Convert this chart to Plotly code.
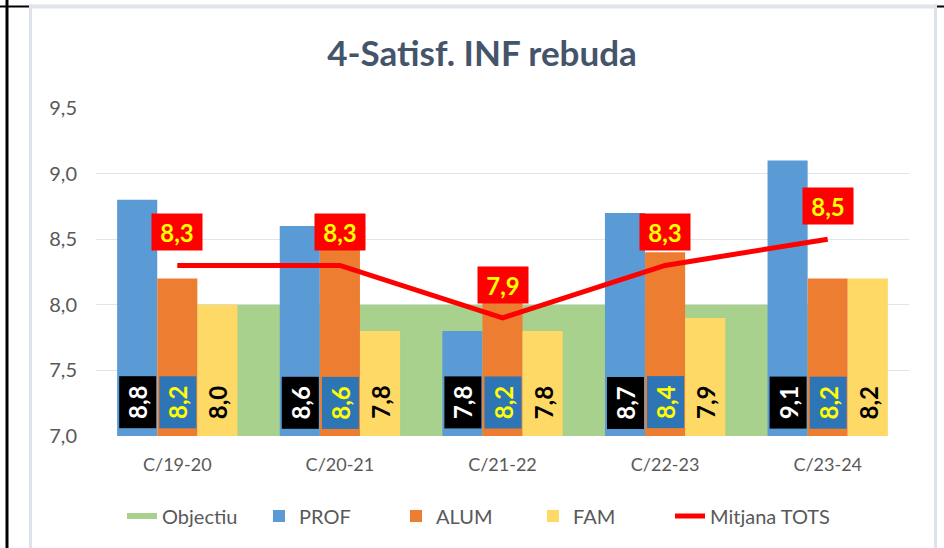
import plotly.graph_objects as go

categories = ["C/19-20", "C/20-21", "C/21-22", "C/22-23", "C/23-24"]
objectiu = [8.0, 8.0, 8.0, 8.0, 8.0]
prof = [8.8, 8.6, 7.8, 8.7, 9.1]
alum = [8.2, 8.6, 8.2, 8.4, 8.2]
fam = [8.0, 7.8, 7.8, 7.9, 8.2]
mitjana = [8.3, 8.3, 7.9, 8.3, 8.5]
y_ticks = [7.0, 7.5, 8.0, 8.5, 9.0, 9.5]

FONT = "Lato, Carlito, Calibri, sans-serif"
xs = list(range(len(categories)))
BARGAP = 0.26
bw = (1 - BARGAP) / 3

def fmt(v):
    return f"{v:.1f}".replace(".", ",")

fig = go.Figure()

# Objectiu area (behind bars, on base axes)
fig.add_trace(go.Scatter(
    x=xs, y=objectiu, name="Objectiu", mode="none", fill="tozeroy",
    fillcolor="#A9D18E", xaxis="x", yaxis="y", hoverinfo="skip", legend="legend"))

bar_cfg = [("PROF", prof, "#5B9BD5"), ("ALUM", alum, "#ED7D31"), ("FAM", fam, "#FFD966")]
for name, vals, col in bar_cfg:
    fig.add_trace(go.Bar(
        x=xs, y=vals, name=name, marker=dict(color=col, line=dict(width=0)),
        xaxis="x2", yaxis="y2", legend="legend"))

fig.add_trace(go.Scatter(
    x=xs, y=mitjana, name="Mitjana TOTS", mode="lines",
    line=dict(color="#FF0000", width=5), xaxis="x2", yaxis="y2", legend="legend2"))

annotations = []
label_styles = [
    (prof, "#FFFFFF", "#000000"),
    (alum, "#FFFF00", "#2E75B6"),
    (fam, "#000000", "rgba(0,0,0,0)"),
]
for k, (vals, fcol, bg) in enumerate(label_styles):
    off = (k - 1) * bw
    for i, v in enumerate(vals):
        annotations.append(dict(
            x=i + off, y=y_ticks[0], xref="x", yref="y", text=fmt(v),
            showarrow=False, textangle=-90, yanchor="bottom", xanchor="center",
            yshift=7, font=dict(family=FONT, size=24, color=fcol, weight="bold"),
            bgcolor=bg, width=47, height=32, borderpad=2))

for i, v in enumerate(mitjana):
    annotations.append(dict(
        x=i, y=v, xref="x", yref="y", text=fmt(v), showarrow=False,
        yanchor="bottom", yshift=14,
        font=dict(family=FONT, size=24, color="#FFFF00", weight="bold"),
        bgcolor="#FF0000", width=46, height=32, borderpad=2))

W, H = 944, 548
ML, MR, MT, MB = 96, 35, 108, 112
pw = W - ML - MR
ph = H - MT - MB

def px(x):
    return (x - ML) / pw

def py(y):
    return 1 - (y - MT) / ph

shapes = [
    dict(type="line", xref="paper", yref="paper", x0=px(7), x1=px(7), y0=py(0), y1=py(548),
         line=dict(color="#000000", width=3)),
    dict(type="line", xref="paper", yref="paper", x0=px(0), x1=px(30), y0=py(6.5), y1=py(6.5),
         line=dict(color="#000000", width=2)),
    dict(type="line", xref="paper", yref="paper", x0=px(937), x1=px(944), y0=py(6.5), y1=py(6.5),
         line=dict(color="#000000", width=2)),
    dict(type="line", xref="paper", yref="paper", x0=px(30.5), x1=px(30.5), y0=py(4), y1=py(548),
         line=dict(color="#DDE2EB", width=3)),
    dict(type="line", xref="paper", yref="paper", x0=px(935.5), x1=px(935.5), y0=py(4), y1=py(548),
         line=dict(color="#DDE2EB", width=3)),
    dict(type="line", xref="paper", yref="paper", x0=px(29), x1=px(937), y0=py(6.5), y1=py(6.5),
         line=dict(color="#DFE4EC", width=4)),
]

legend_font = dict(family=FONT, size=20, color="#595959")

fig.update_layout(
    width=W, height=H,
    margin=dict(l=ML, r=MR, t=MT, b=MB),
    paper_bgcolor="white", plot_bgcolor="white",
    separators=",.",
    barmode="group", bargap=BARGAP, bargroupgap=0,
    title=dict(text="<b>4-Satisf. INF rebuda</b>", x=482 / W, xref="container", y=1 - 54 / H,
               yref="container", yanchor="middle", xanchor="center",
               font=dict(family=FONT, size=35, color="#44546A")),
    font=dict(family=FONT, color="#595959"),
    xaxis=dict(range=[-0.5, len(categories) - 0.5], tickvals=xs, ticktext=categories,
               showgrid=False, zeroline=False, showline=False,
               tickfont=dict(family=FONT, size=18, color="#595959"),
               ticklabelstandoff=16),
    yaxis=dict(range=[y_ticks[0], y_ticks[-1]], tickvals=y_ticks, tickformat=".1f",
               showgrid=True, gridcolor="#E1E4EA", gridwidth=1, zeroline=False,
               showline=False, tickfont=dict(family=FONT, size=20, color="#595959"),
               ticklabelstandoff=18),
    xaxis2=dict(range=[-0.5, len(categories) - 0.5], overlaying="x", visible=False),
    yaxis2=dict(range=[y_ticks[0], y_ticks[-1]], overlaying="y", visible=False),
    showlegend=True,
    legend=dict(orientation="h", xref="container", x=122 / W, xanchor="left",
                yref="container", y=1 - 516 / H, yanchor="middle",
                font=legend_font, entrywidth=92, entrywidthmode="pixels",
                traceorder="normal"),
    legend2=dict(orientation="h", xref="container", x=670 / W, xanchor="left",
                 yref="container", y=1 - 516 / H, yanchor="middle",
                 font=legend_font),
    annotations=annotations,
    shapes=shapes,
)

fig.write_html("out.html", config={"displayModeBar": False},
               post_script="document.body.style.margin='0';document.body.style.padding='0';")
